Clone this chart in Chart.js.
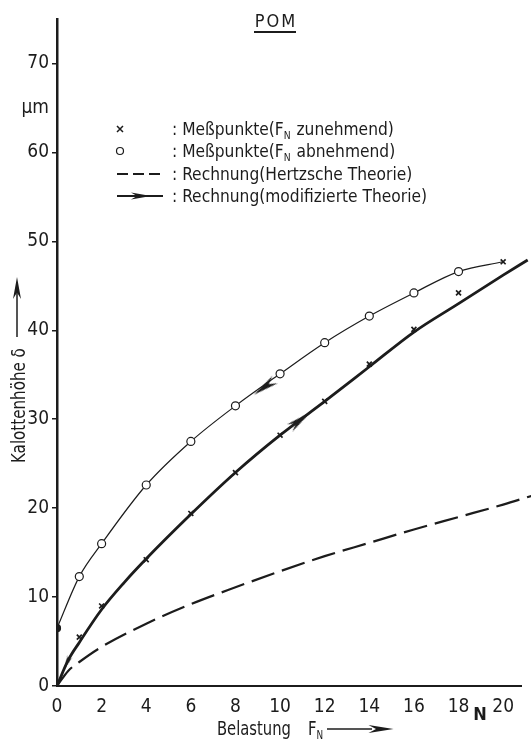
<!DOCTYPE html>
<html>
<head>
<meta charset="utf-8">
<script src="https://cdn.jsdelivr.net/npm/chart.js@4.4.1/dist/chart.umd.min.js"></script>
<style>
    html, body { margin: 0; padding: 0; background: #fff; }
</style>
</head>
<body>
<canvas id="pomChart" width="531" height="741"></canvas>
<script>
// ========================================
// POM - Kalottenhöhe über Belastung
// ========================================

const FONT = "'Liberation Sans Narrow', 'DejaVu Sans Condensed', sans-serif";
const INK = '#1c1c1c';

// Achsen
const xTicks = [0, 2, 4, 6, 8, 10, 12, 14, 16, 18, 20];
const yTicks = [0, 10, 20, 30, 40, 50, 60, 70];

// Meßpunkte (F_N zunehmend)
const loadInc = [1, 2, 4, 6, 8, 10, 12, 14, 16, 18, 20];
const deltaInc = [5.5, 9.0, 14.2, 19.4, 24.0, 28.2, 32.0, 36.2, 40.1, 44.2, 47.7];

// Meßpunkte (F_N abnehmend)
const loadDec = [0, 1, 2, 4, 6, 8, 10, 12, 14, 16, 18];
const deltaDec = [6.5, 12.3, 16.0, 22.6, 27.5, 31.5, 35.1, 38.6, 41.6, 44.2, 46.6];

// Ausgleichskurve durch die abnehmenden Meßpunkte
const unloadX = [0, 1, 2, 4, 6, 8, 10, 12, 14, 16, 18, 20];
const unloadY = [6.5, 12.3, 16.0, 22.6, 27.5, 31.5, 35.1, 38.6, 41.6, 44.2, 46.6, 47.7];

// Rechnung (modifizierte Theorie)
const modX = [0, 0.5, 1, 2, 3, 4, 6, 8, 10, 12, 14, 16, 18, 20, 21.1];
const modY = [0, 2.9, 4.9, 8.6, 11.6, 14.3, 19.3, 24.0, 28.2, 32.0, 35.9, 39.8, 43.0, 46.2, 47.9];

// Rechnung (Hertzsche Theorie)
const hertzX = [0, 0.5, 1, 2, 4, 6, 8, 10, 12, 14, 16, 18, 20, 21.3];
const hertzY = [0, 1.7, 2.7, 4.4, 7.0, 9.2, 11.1, 12.9, 14.6, 16.1, 17.6, 19.0, 20.4, 21.4];

// Pfeile auf den Kurven (Richtung: 1 = vorwärts, -1 = rückwärts)
const modArrowX = [10.9, 0.45];
const modArrowY = [29.9, 2.6];
const modArrowDir = [1, -1];
const unloadArrowX = [9.3];
const unloadArrowY = [33.6];
const unloadArrowDir = [-1];

// Legende
const legendRows = [
    [[': Meßpunkte(F', false], ['N', true], [' zunehmend)', false]],
    [[': Meßpunkte(F', false], ['N', true], [' abnehmend)', false]],
    [[': Rechnung(Hertzsche Theorie)', false]],
    [[': Rechnung(modifizierte Theorie)', false]]
];

function pts(xs, ys) {
    return xs.map((x, i) => ({ x: x, y: ys[i] }));
}

// Pfeilspitze als Bild (zeigt nach rechts)
function makeDart(len, wid) {
    const c = document.createElement('canvas');
    c.width = len;
    c.height = wid;
    const g = c.getContext('2d');
    g.fillStyle = INK;
    g.beginPath();
    g.moveTo(len, wid / 2);
    g.lineTo(0, 0.5);
    g.lineTo(len * 0.3, wid / 2);
    g.lineTo(0, wid - 0.5);
    g.closePath();
    g.fill();
    return c;
}
const bigDart = makeDart(26, 10);
const smallDart = makeDart(14, 6);

// Winkel der Kurve in Pixeln an der Stelle x
function slopeAngle(chart, xs, ys, x) {
    const sx = chart.scales.x, sy = chart.scales.y;
    let i = 0;
    while (i < xs.length - 2 && xs[i + 1] < x) i++;
    const dx = sx.getPixelForValue(xs[i + 1]) - sx.getPixelForValue(xs[i]);
    const dy = sy.getPixelForValue(ys[i + 1]) - sy.getPixelForValue(ys[i]);
    return Math.atan2(dy, dx) * 180 / Math.PI;
}

function drawDart(ctx, x, y, len, wid, angle) {
    ctx.save();
    ctx.translate(x, y);
    ctx.rotate(angle);
    ctx.fillStyle = INK;
    ctx.beginPath();
    ctx.moveTo(len / 2, 0);
    ctx.lineTo(-len / 2, -wid / 2);
    ctx.lineTo(-len / 2 + len * 0.3, 0);
    ctx.lineTo(-len / 2, wid / 2);
    ctx.closePath();
    ctx.fill();
    ctx.restore();
}

// Text mit tiefgestellten Teilen, schmal gezogen (sx)
function drawRich(ctx, x, y, parts, size, sx) {
    ctx.save();
    ctx.translate(x, y);
    ctx.scale(sx, 1);
    ctx.textAlign = 'left';
    ctx.textBaseline = 'alphabetic';
    let cx = 0;
    parts.forEach(p => {
        const sub = p[1];
        ctx.font = (sub ? Math.round(size * 0.62) : size) + 'px ' + FONT;
        ctx.fillText(p[0], cx, sub ? 4 : 0);
        cx += ctx.measureText(p[0]).width + (sub ? 1 : 0);
    });
    ctx.restore();
}

const decorations = {
    id: 'decorations',
    afterDraw(chart) {
        const ctx = chart.ctx;
        ctx.save();
        ctx.fillStyle = INK;
        ctx.strokeStyle = INK;

        // Titel
        ctx.font = '18px ' + FONT;
        ctx.letterSpacing = '2px';
        ctx.textAlign = 'center';
        ctx.textBaseline = 'alphabetic';
        ctx.fillText('POM', 276, 27);
        ctx.letterSpacing = '0px';
        ctx.lineWidth = 2;
        ctx.beginPath();
        ctx.moveTo(254, 32);
        ctx.lineTo(296, 32);
        ctx.stroke();

        // Legende
        const rowY = [129, 151, 174, 196];
        legendRows.forEach((row, i) => {
            const y = rowY[i];
            ctx.lineWidth = 1.5;
            if (i === 0) {
                ctx.beginPath();
                ctx.moveTo(117, y - 3); ctx.lineTo(123, y + 3);
                ctx.moveTo(123, y - 3); ctx.lineTo(117, y + 3);
                ctx.stroke();
            } else if (i === 1) {
                ctx.lineWidth = 1.2;
                ctx.beginPath();
                ctx.arc(120, y, 3.5, 0, Math.PI * 2);
                ctx.stroke();
            } else if (i === 2) {
                ctx.lineWidth = 2;
                ctx.setLineDash([11, 5]);
                ctx.beginPath();
                ctx.moveTo(117, y); ctx.lineTo(163, y);
                ctx.stroke();
                ctx.setLineDash([]);
            } else {
                ctx.lineWidth = 2;
                ctx.beginPath();
                ctx.moveTo(117, y); ctx.lineTo(163, y);
                ctx.stroke();
                drawDart(ctx, 141, y, 20, 7, 0);
            }
            drawRich(ctx, 172, y + 6, row, 18.5, 0.93);
        });

        // x-Achsentitel
        drawRich(ctx, 217, 735, [['Belastung', false]], 20, 0.82);
        drawRich(ctx, 308, 735, [['F', false], ['N', true]], 20, 0.82);
        ctx.lineWidth = 1.5;
        ctx.beginPath();
        ctx.moveTo(327, 729); ctx.lineTo(372, 729);
        ctx.stroke();
        drawDart(ctx, 381, 729, 25, 8, 0);

        // Einheit N
        ctx.font = 'bold 18px ' + FONT;
        ctx.textAlign = 'center';
        ctx.textBaseline = 'middle';
        ctx.fillText('N', 480, 715);

        // y-Achsentitel
        ctx.save();
        ctx.translate(25, 463);
        ctx.rotate(-Math.PI / 2);
        drawRich(ctx, 0, 0, [['Kalottenhöhe δ', false]], 20, 0.84);
        ctx.restore();
        ctx.lineWidth = 1.5;
        ctx.beginPath();
        ctx.moveTo(17, 337); ctx.lineTo(17, 292);
        ctx.stroke();
        drawDart(ctx, 17, 288, 22, 8, -Math.PI / 2);

        ctx.restore();
    }
};

let pomChart = null;

function initPomChart() {
    const el = document.getElementById('pomChart');

    pomChart = new Chart(el, {
        type: 'scatter',
        data: {
            datasets: [
                {
                    label: 'Pfeile modifiziert',
                    data: pts(modArrowX, modArrowY),
                    pointStyle: ctx => ctx.dataIndex === 0 ? bigDart : smallDart,
                    pointRotation: ctx => slopeAngle(ctx.chart, modX, modY, modArrowX[ctx.dataIndex]) +
                        (modArrowDir[ctx.dataIndex] < 0 ? 180 : 0),
                    pointRadius: 6
                },
                {
                    label: 'Pfeile abnehmend',
                    data: pts(unloadArrowX, unloadArrowY),
                    pointStyle: bigDart,
                    pointRotation: ctx => slopeAngle(ctx.chart, unloadX, unloadY, unloadArrowX[ctx.dataIndex]) +
                        (unloadArrowDir[ctx.dataIndex] < 0 ? 180 : 0),
                    pointRadius: 6
                },
                {
                    label: 'Meßpunkte (F_N zunehmend)',
                    data: pts(loadInc, deltaInc),
                    pointStyle: 'crossRot',
                    pointRadius: 3.5,
                    borderColor: INK,
                    borderWidth: 1.7
                },
                {
                    label: 'Meßpunkte (F_N abnehmend)',
                    data: pts(loadDec, deltaDec),
                    pointStyle: 'circle',
                    pointRadius: ctx => ctx.raw && ctx.raw.x === 0 ? 3.5 : 4,
                    borderColor: INK,
                    borderWidth: 1.2,
                    backgroundColor: ctx => ctx.raw && ctx.raw.x === 0 ? INK : '#fff'
                },
                {
                    label: 'Kurve abnehmend',
                    data: pts(unloadX, unloadY),
                    showLine: true,
                    cubicInterpolationMode: 'monotone',
                    borderColor: INK,
                    borderWidth: 1.2,
                    pointRadius: 0
                },
                {
                    label: 'Rechnung (modifizierte Theorie)',
                    data: pts(modX, modY),
                    showLine: true,
                    cubicInterpolationMode: 'monotone',
                    borderColor: INK,
                    borderWidth: 2.8,
                    pointRadius: 0,
                    clip: false
                },
                {
                    label: 'Rechnung (Hertzsche Theorie)',
                    data: pts(hertzX, hertzY),
                    showLine: true,
                    cubicInterpolationMode: 'monotone',
                    borderColor: INK,
                    borderWidth: 2.2,
                    borderDash: [24, 8],
                    pointRadius: 0,
                    clip: false
                }
            ]
        },
        options: {
            responsive: false,
            animation: false,
            devicePixelRatio: 1,
            layout: {
                padding: { top: 19, right: 10, left: 0, bottom: 0 }
            },
            plugins: {
                legend: { display: false },
                tooltip: { enabled: false }
            },
            scales: {
                x: {
                    type: 'linear',
                    min: 0,
                    max: 20.8,
                    afterBuildTicks: scale => {
                        scale.ticks = xTicks.map(v => ({ value: v }));
                    },
                    afterFit: scale => { scale.height = 55; },
                    grid: { display: false },
                    border: { display: true, color: INK, width: 2 },
                    ticks: {
                        color: INK,
                        padding: 2,
                        maxRotation: 0,
                        font: { family: FONT, size: 19 }
                    }
                },
                y: {
                    type: 'linear',
                    min: 0,
                    max: 75,
                    afterBuildTicks: scale => {
                        scale.ticks = yTicks.concat([65]).map(v => ({ value: v }));
                    },
                    afterFit: scale => { scale.width = 57; },
                    grid: {
                        drawOnChartArea: false,
                        drawTicks: true,
                        tickLength: 5,
                        lineWidth: 1.5,
                        tickColor: ctx => ctx.tick && ctx.tick.value === 65 ? 'rgba(0,0,0,0)' : INK
                    },
                    border: { display: true, color: INK, width: 2.5 },
                    ticks: {
                        color: INK,
                        padding: 3,
                        font: { family: FONT, size: 19 },
                        callback: value => value === 65 ? 'µm' : value
                    }
                }
            }
        },
        plugins: [decorations]
    });
}

document.addEventListener('DOMContentLoaded', function () {
    if (typeof Chart !== 'undefined') {
        initPomChart();
    } else {
        console.error('Chart.js wurde nicht geladen');
    }
});
</script>
</body>
</html>
